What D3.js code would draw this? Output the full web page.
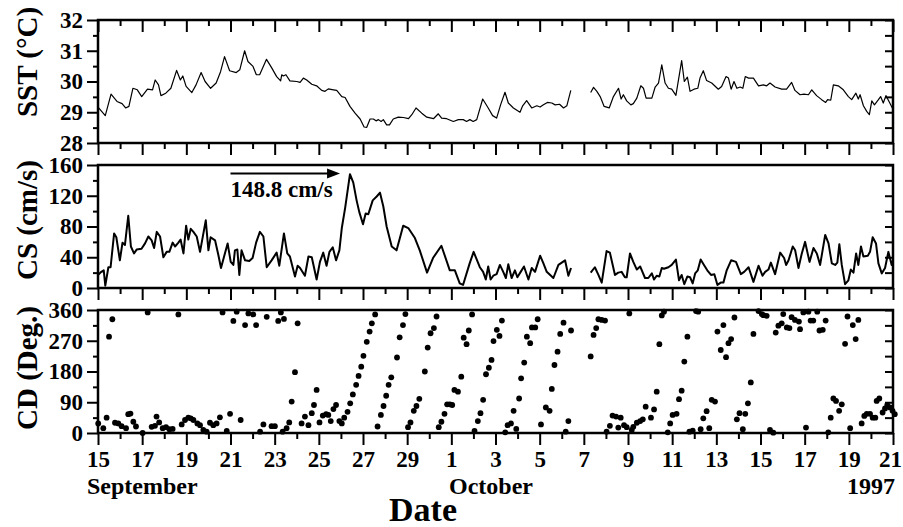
<!DOCTYPE html>
<meta charset="utf-8">
<style>
body { margin: 0; background: #fff; }
svg { display: block; }
.axis path { display: none; }
.axis line { stroke: #000; stroke-width: 2; }
.axis text { font-family: "Liberation Serif", "Times New Roman", serif; font-weight: bold; font-size: 23px; fill: #000; }
.lbl { font-family: "Liberation Serif", "Times New Roman", serif; font-weight: bold; fill: #000; }
</style>
<svg width="903" height="527"></svg>
<script src="https://d3js.org/d3.v7.min.js"></script>
<script>

// day offsets from 15 Sep 1997 (0) to 21 Oct 1997 (36)
var dateLabels = ["15","17","19","21","23","25","27","29","1","3","5","7","9","11","13","15","17","19","21"];
var monthLabels = ["September", "October"];
var yearLabel = "1997";

var sstTicks = [28, 29, 30, 31, 32];
var csTicks = [0, 40, 80, 120, 160];
var cdTicks = [0, 90, 180, 270, 360];

// SST (°C): [day, value], null = no data
var sst = [[0,29.17],[0.33,28.89],[0.59,29.59],[0.86,29.35],[1.09,29.28],[1.25,29.14],[1.4,29.19],[1.58,29.78],
  [1.78,29.73],[1.98,29.51],[2.24,29.75],[2.47,29.73],[2.59,30.05],[2.74,29.89],[2.85,29.54],[3.07,29.62],
  [3.3,29.78],[3.56,30.36],[3.73,30.05],[3.84,30.18],[3.99,29.84],[4.25,29.64],[4.44,29.89],[4.67,30.29],
  [4.85,30.0],[5.1,29.78],[5.35,29.95],[5.55,30.32],[5.73,30.81],[5.96,30.35],[6.26,30.29],[6.42,30.38],
  [6.64,31.0],[6.79,30.65],[7.02,30.49],[7.17,30.22],[7.32,30.22],[7.63,30.72],[7.86,30.45],[8.09,30.16],
  [8.27,30.02],[8.32,30.22],[8.39,30.18],[8.51,30.22],[8.69,30.02],[9.0,30.0],[9.15,29.97],[9.3,30.11],
  [9.45,30.05],[9.68,29.91],[9.9,29.86],[10.13,29.71],[10.28,29.68],[10.43,29.76],[10.66,29.73],[10.81,29.71],
  [11.04,29.51],[11.19,29.48],[11.41,29.19],[11.64,28.97],[11.87,28.78],[12.05,28.52],[12.17,28.51],[12.32,28.78],
  [12.47,28.78],[12.59,28.72],[12.7,28.76],[12.82,28.7],[12.92,28.76],[13.07,28.59],[13.2,28.59],[13.37,28.78],
  [13.6,28.84],[13.83,28.83],[14.06,28.79],[14.21,28.92],[14.4,29.14],[14.66,28.97],[14.89,28.84],[15.19,28.79],
  [15.41,28.95],[15.56,28.81],[15.79,28.79],[16.09,28.7],[16.32,28.76],[16.54,28.76],[16.69,28.7],[16.84,28.76],
  [16.99,28.7],[17.15,28.76],[17.42,29.43],[17.67,29.14],[17.87,28.89],[18.05,28.81],[18.23,29.24],[18.43,29.65],
  [18.58,29.3],[18.81,29.14],[19.11,29.0],[19.23,29.21],[19.41,29.38],[19.64,29.14],[19.87,29.21],[20.02,29.17],
  [20.17,29.24],[20.35,29.32],[20.55,29.3],[20.7,29.24],[20.9,29.26],[21.08,29.14],[21.23,29.21],[21.41,29.71],
  [21.8,null],
  [22.31,29.64],[22.44,29.81],[22.59,29.68],[22.74,29.51],[22.92,29.19],[23.15,29.14],[23.34,29.51],[23.57,29.78],
  [23.69,29.43],[23.79,29.57],[23.94,29.37],[24.13,29.24],[24.24,29.28],[24.4,29.46],[24.58,29.86],[24.7,29.78],
  [24.82,29.46],[25.08,29.46],[25.23,29.82],[25.38,29.95],[25.53,30.54],[25.68,29.95],[25.83,29.78],[25.98,29.75],
  [26.17,29.55],[26.43,30.68],[26.55,30.0],[26.69,30.14],[26.81,29.68],[26.99,29.75],[27.16,29.78],[27.26,30.11],
  [27.41,30.35],[27.56,30.03],[27.79,29.95],[28.09,29.75],[28.24,29.84],[28.44,30.16],[28.55,30.11],[28.67,29.75],
  [28.8,30.0],[28.93,29.78],[29.08,29.82],[29.2,29.78],[29.31,30.16],[29.46,30.11],[29.68,30.11],[29.91,29.86],
  [30.13,29.89],[30.28,29.86],[30.43,29.95],[30.66,29.82],[30.96,29.75],[31.18,29.75],[31.41,29.97],[31.56,29.71],
  [31.79,29.57],[31.97,29.59],[32.17,29.57],[32.32,29.73],[32.54,29.54],[32.77,29.41],[32.95,29.32],[33.04,29.41],
  [33.18,29.39],[33.3,29.89],[33.52,29.86],[33.75,29.73],[33.98,29.51],[34.13,29.41],[34.32,29.62],[34.43,29.43],
  [34.51,29.57],[34.66,29.21],[34.81,29.03],[34.93,28.92],[35.04,29.37],[35.16,29.24],[35.34,29.41],[35.44,29.51],
  [35.56,29.3],[35.68,29.54],[35.82,29.35],[35.97,29.14]];

// CS (cm/s)
var cs = [[0,17],[0.15,21],[0.26,23],[0.33,3],[0.47,27],[0.57,27],[0.73,71],[0.83,66],[0.99,36],[1.11,59],
  [1.22,56],[1.37,94],[1.49,54],[1.63,45],[1.75,50],[1.97,51],[2.13,58],[2.28,67],[2.43,62],[2.54,52],[2.66,73],
  [2.81,67],[2.96,40],[3.11,47],[3.23,47],[3.38,59],[3.49,54],[3.64,59],[3.74,63],[3.87,45],[3.99,81],[4.09,63],
  [4.2,77],[4.32,73],[4.47,67],[4.62,47],[4.88,88],[5.0,49],[5.1,66],[5.3,62],[5.45,43],[5.57,26],[5.71,41],
  [5.87,58],[6.01,34],[6.13,30],[6.2,49],[6.31,50],[6.4,17],[6.5,49],[6.66,36],[6.85,35],[7.0,39],[7.16,59],
  [7.33,73],[7.49,67],[7.64,27],[7.86,36],[8.09,46],[8.21,29],[8.42,71],[8.57,45],[8.69,41],[8.92,15],[9.04,29],
  [9.15,26],[9.37,16],[9.53,41],[9.68,40],[9.9,11],[10.05,34],[10.2,46],[10.35,29],[10.48,47],[10.63,53],
  [10.78,36],[10.93,49],[11.04,78],[11.19,104],[11.41,148],[11.56,137],[11.71,114],[11.83,99],[12.0,83],
  [12.12,97],[12.24,96],[12.44,114],[12.62,119],[12.77,124],[12.92,106],[13.07,80],[13.3,54],[13.52,49],
  [13.82,81],[14.05,78],[14.35,65],[14.57,49],[14.9,20],[15.17,39],[15.55,55],[15.93,23],[16.16,23],[16.38,6],
  [16.53,4],[16.83,32],[17.01,47],[17.29,27],[17.44,21],[17.56,11],[17.67,28],[17.78,11],[17.9,16],[18.05,18],
  [18.2,30],[18.35,21],[18.47,13],[18.58,31],[18.73,13],[18.88,23],[18.99,14],[19.14,21],[19.29,28],[19.49,11],
  [19.64,26],[19.79,21],[20.02,42],[20.17,32],[20.32,21],[20.62,13],[20.85,30],[21.0,33],[21.15,36],[21.3,16],
  [21.42,26],
  [21.8,null],
  [22.31,20],[22.5,27],[22.66,17],[22.81,7],[23.03,48],[23.18,46],[23.41,17],[23.56,20],[23.71,21],[23.86,14],
  [23.94,14],[24.09,45],[24.24,34],[24.4,24],[24.55,28],[24.77,13],[24.92,13],[25.08,19],[25.18,11],[25.3,16],
  [25.42,15],[25.53,26],[25.63,25],[25.83,27],[25.98,30],[26.17,37],[26.31,10],[26.43,17],[26.55,5],[26.69,15],
  [26.81,14],[26.93,6],[27.04,19],[27.16,23],[27.29,37],[27.44,30],[27.59,23],[27.76,17],[27.91,18],[28.05,4],
  [28.2,7],[28.32,7],[28.47,23],[28.67,36],[28.89,34],[29.11,18],[29.26,21],[29.46,27],[29.68,8],[29.91,29],
  [30.09,16],[30.21,21],[30.36,24],[30.47,33],[30.66,18],[30.89,46],[31.07,39],[31.16,30],[31.27,36],[31.46,54],
  [31.57,49],[31.72,26],[31.87,45],[32.02,60],[32.22,34],[32.4,52],[32.55,45],[32.7,30],[32.93,69],[33.08,58],
  [33.23,32],[33.38,30],[33.48,33],[33.57,57],[33.68,30],[33.83,5],[33.98,10],[34.09,24],[34.21,20],[34.33,45],
  [34.43,30],[34.55,54],[34.66,41],[34.86,42],[34.96,47],[35.08,66],[35.23,58],[35.34,32],[35.49,19],[35.64,26],
  [35.79,47],[35.94,30],[36.0,36]];

// CD (deg)
var cd = [[0.01,28],[0.24,14],[0.39,45],[0.5,282],[0.65,333],[0.77,30],[0.92,28],[1.07,20],[1.27,14],[1.37,55],
  [1.47,57],[1.6,33],[1.72,19],[2.02,0],[2.25,353],[2.43,18],[2.58,21],[2.65,48],[2.77,31],[2.93,14],[3.08,17],
  [3.23,11],[3.38,12],[3.64,347],[3.79,25],[3.94,38],[4.09,45],[4.2,43],[4.32,38],[4.5,28],[4.62,23],[4.77,9],
  [4.92,4],[5.07,30],[5.22,23],[5.37,28],[5.52,46],[5.64,353],[5.83,6],[5.98,56],[6.13,328],[6.28,355],[6.46,38],
  [6.66,316],[6.81,350],[7.03,347],[7.16,316],[7.34,4],[7.49,25],[7.64,340],[7.86,20],[8.01,20],[8.16,328],
  [8.28,353],[8.36,4],[8.42,334],[8.54,14],[8.66,31],[8.77,92],[8.92,178],[9.04,321],
  [9.22,28],[9.37,48],[9.53,23],[9.68,58],[9.78,82],[9.9,126],[10.03,31],[10.18,51],[10.33,55],[10.43,53],
  [10.54,35],[10.66,70],[10.78,82],[10.93,35],[11.04,28],[11.15,45],[11.3,62],[11.42,87],[11.54,113],[11.69,141],
  [11.8,167],[11.92,194],[12.02,226],[12.17,267],[12.3,297],[12.4,321],[12.55,347],[12.66,19],[12.81,53],
  [12.93,79],[13.05,109],[13.16,141],[13.28,163],[13.54,221],[13.66,280],[13.81,316],[13.92,348],[14.04,17],
  [14.15,31],[14.3,65],[14.42,79],[14.55,100],[14.8,180],[14.93,250],[15.06,292],[15.21,307],[15.33,341],
  [15.43,17],[15.55,33],[15.69,56],[15.81,84],[15.93,84],[16.04,82],[16.14,126],[16.3,121],[16.45,165],
  [16.56,279],[16.69,260],[16.79,300],[16.94,347],[17.05,6],[17.2,35],[17.32,58],[17.44,97],[17.57,172],
  [17.7,191],[17.82,214],[17.91,269],[18.06,302],[18.18,284],[18.29,329],[18.44,2],[18.55,23],[18.7,28],
  [18.82,65],[18.94,12],[19.07,101],[19.16,160],[19.3,206],[19.42,282],[19.57,263],[19.65,309],[19.8,309],
  [19.91,333],[20.06,25],[20.28,75],[20.45,65],[20.55,129],[20.67,199],[20.81,238],[20.93,290],[21.08,323],
  [21.18,4],[21.3,35],[21.42,300],[22.31,224],[22.44,287],[22.56,307],[22.66,333],
  [22.81,331],[22.96,329],[23.03,4],[23.18,21],[23.3,51],[23.46,48],[23.56,16],[23.67,45],[23.82,23],[23.94,17],
  [24.06,350],[24.17,9],[24.24,18],[24.4,30],[24.55,35],[24.67,40],[24.8,77],[25.04,45],[25.18,69],[25.3,121],
  [25.42,260],[25.53,344],[25.63,355],[25.8,2],[25.91,28],[26.02,53],[26.2,56],[26.31,99],[26.43,124],[26.55,209],
  [26.69,282],[26.78,4],[26.93,7],[27.08,357],[27.18,355],[27.29,11],[27.41,43],[27.56,64],[27.68,14],[27.79,97],
  [27.94,92],[28.05,297],[28.2,243],[28.32,316],[28.44,222],[28.55,263],[28.67,275],[28.82,338],[28.93,40],
  [29.05,58],[29.2,11],[29.31,56],[29.43,87],[29.56,148],[29.68,290],[29.91,357],[30.06,348],[30.13,345],
  [30.28,343],[30.43,9],[30.58,1],[30.69,294],[30.81,314],[30.96,321],[31.03,348],[31.19,309],[31.31,307],
  [31.41,339],[31.56,331],[31.74,326],[31.79,304],[31.94,353],[32.06,16],[32.17,355],[32.27,329],[32.39,329],
  [32.57,355],[32.67,300],[32.82,302],[32.95,329],[33.07,2],[33.18,45],[33.3,101],[33.42,94],[33.56,65],
  [33.68,84],[33.83,261],[33.94,341],[34.06,14],[34.18,316],[34.31,275],[34.43,331],[34.58,28],[34.7,50],
  [34.81,56],[34.96,56],[35.08,45],[35.2,45],[35.26,94],[35.38,101],[35.53,60],[35.64,72],[35.74,82],[35.86,75],
  [35.98,65],[36.08,55]];

var svg = d3.select("svg");

var x = d3.scaleLinear().domain([0, 36]).range([98, 893]);
var majorDays = d3.range(0, 37, 2);
var minorDays = d3.range(1, 36, 2);

var panels = [
  {top: 20, bottom: 143, domain: [28, 32], ticks: sstTicks, step: 0.5, title: "SST (°C)", titleY: 62},
  {top: 165, bottom: 288, domain: [0, 160], ticks: csTicks, step: 20, title: "CS (cm/s)", titleY: 220},
  {top: 310, bottom: 433, domain: [0, 360], ticks: cdTicks, step: 45, title: "CD (Deg.)", titleY: 368}
];

panels.forEach(function(p, i) {
  p.y = d3.scaleLinear().domain(p.domain).range([p.bottom, p.top]);
  var allY = d3.range(p.domain[0], p.domain[1] + p.step / 2, p.step);
  var minorY = allY.filter(function(v) { return p.ticks.indexOf(v) < 0; });

  // left axis, ticks outward
  svg.append("g").attr("class", "axis").attr("transform", "translate(98,0)")
    .call(d3.axisLeft(p.y).tickValues(p.ticks).tickSize(11).tickPadding(4).tickFormat(d3.format("d")));
  svg.append("g").attr("class", "axis").attr("transform", "translate(98,0)")
    .call(d3.axisLeft(p.y).tickValues(minorY).tickSize(5).tickFormat(""));

  // right axis, ticks inward
  svg.append("g").attr("class", "axis").attr("transform", "translate(893,0)")
    .call(d3.axisRight(p.y).tickValues(allY).tickSize(-8).tickFormat(""));

  // bottom axis, ticks downward
  var last = i === panels.length - 1;
  var bottomAxis = svg.append("g").attr("class", "axis").attr("transform", "translate(0," + p.bottom + ")")
    .call(d3.axisBottom(x).tickValues(majorDays).tickSize(12).tickPadding(6)
      .tickFormat(function(d, j) { return last ? dateLabels[j] : ""; }));
  if (last) {
    bottomAxis.selectAll("text").filter(function(d) { return d === 36; }).attr("dx", -3);
  }
  svg.append("g").attr("class", "axis").attr("transform", "translate(0," + p.bottom + ")")
    .call(d3.axisBottom(x).tickValues(minorDays).tickSize(6).tickFormat(""));

  if (i === 0) {
    svg.append("g").attr("class", "axis").attr("transform", "translate(0," + p.top + ")")
      .call(d3.axisTop(x).tickValues(majorDays).tickSize(-12).tickFormat(""));
    svg.append("g").attr("class", "axis").attr("transform", "translate(0," + p.top + ")")
      .call(d3.axisTop(x).tickValues(minorDays).tickSize(-6).tickFormat(""));
  }

  svg.append("rect")
    .attr("x", 98).attr("y", p.top)
    .attr("width", 893 - 98).attr("height", p.bottom - p.top)
    .attr("fill", "none").attr("stroke", "#000").attr("stroke-width", 2.5);

  svg.append("text").attr("class", "lbl")
    .attr("transform", "translate(27," + p.titleY + ") rotate(-90)")
    .attr("text-anchor", "middle").attr("dy", "0.35em")
    .attr("font-size", 29)
    .text(p.title);
});

var ySst = panels[0].y, yCs = panels[1].y, yCd = panels[2].y;

svg.append("path").datum(sst)
  .attr("fill", "none").attr("stroke", "#000").attr("stroke-width", 1.2)
  .attr("stroke-linejoin", "round")
  .attr("d", d3.line().defined(function(d) { return d[1] != null; })
    .x(function(d) { return x(d[0]); }).y(function(d) { return ySst(d[1]); }));

svg.append("path").datum(cs)
  .attr("fill", "none").attr("stroke", "#000").attr("stroke-width", 2)
  .attr("stroke-linejoin", "round")
  .attr("d", d3.line().defined(function(d) { return d[1] != null; })
    .x(function(d) { return x(d[0]); }).y(function(d) { return yCs(d[1]); }));

svg.append("g").selectAll("circle").data(cd).enter().append("circle")
  .attr("cx", function(d) { return x(d[0]); })
  .attr("cy", function(d) { return yCd(d[1]); })
  .attr("r", 2.9).attr("fill", "#000");

// peak annotation
var ay = yCs(148.8), ax0 = x(6.0), ax1 = x(10.96);
svg.append("line").attr("x1", ax0).attr("x2", ax1 - 8).attr("y1", ay).attr("y2", ay)
  .attr("stroke", "#000").attr("stroke-width", 2);
svg.append("path")
  .attr("d", "M" + ax1 + "," + ay + "L" + (ax1 - 13) + "," + (ay - 5) + "L" + (ax1 - 13) + "," + (ay + 5) + "Z")
  .attr("fill", "#000");
svg.append("text").attr("class", "lbl").attr("x", ax0).attr("y", yCs(118))
  .attr("font-size", 23).text("148.8 cm/s");

// month / year / axis title
svg.append("text").attr("class", "lbl").attr("x", 87).attr("y", 494).attr("font-size", 24).text(monthLabels[0]);
svg.append("text").attr("class", "lbl").attr("x", 449).attr("y", 494).attr("font-size", 24).text(monthLabels[1]);
svg.append("text").attr("class", "lbl").attr("x", 895).attr("y", 494).attr("text-anchor", "end")
  .attr("font-size", 24).text(yearLabel);
svg.append("text").attr("class", "lbl").attr("x", 423).attr("y", 521).attr("text-anchor", "middle")
  .attr("font-size", 34).text("Date");

</script>
